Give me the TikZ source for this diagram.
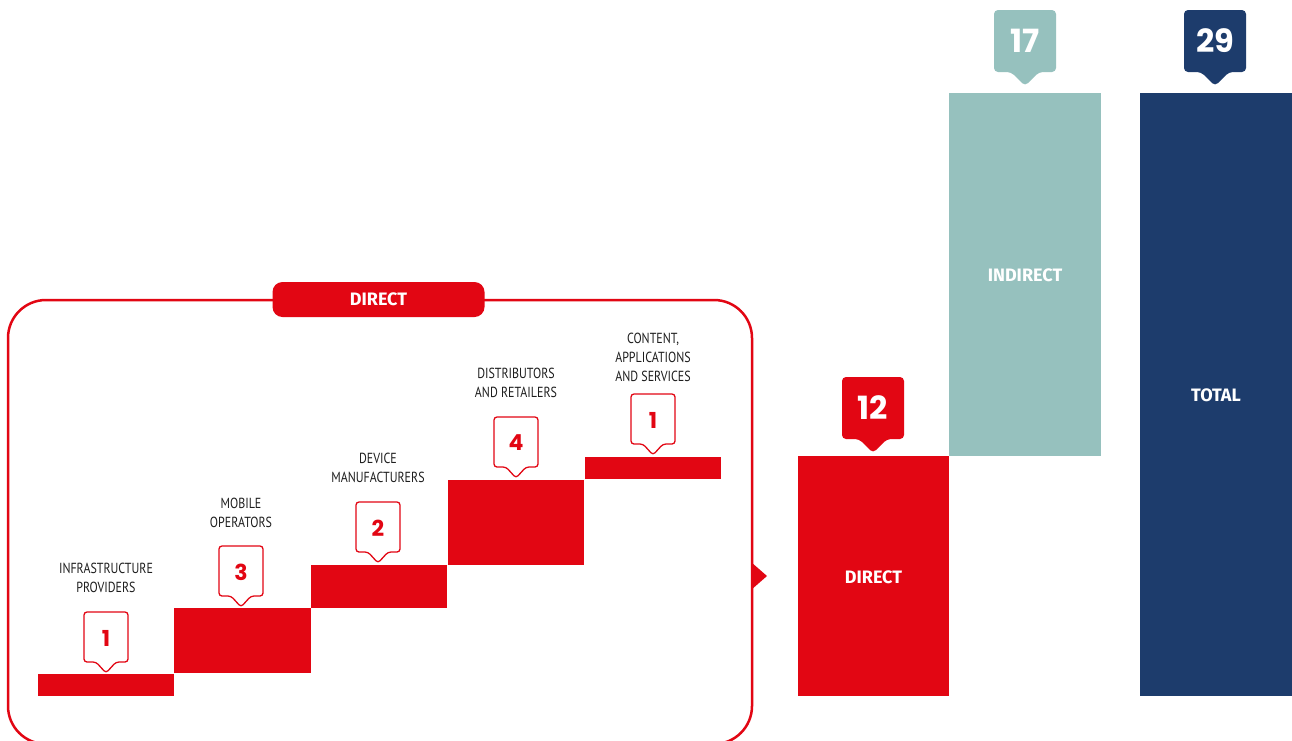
\documentclass[tikz,border=0pt]{standalone}
\usepackage{fontspec}
\setmainfont{PT Sans}
\newfontfamily\condfont[FakeStretch=0.82]{PT Sans}
\newfontfamily\numfont{Poppins}
\newfontfamily\barfont{Fira Sans}
\definecolor{vred}{HTML}{E20613}
\definecolor{vteal}{HTML}{96C1BE}
\definecolor{vnavy}{HTML}{1D3C6C}
\definecolor{vtext}{HTML}{1E1E1E}
\tikzset{
  lbl/.style={align=center, text=vtext, inner sep=0pt, font=\condfont\fontsize{14.6}{19}\selectfont},
  smallnum/.style={text=vred, inner sep=0pt, font=\numfont\bfseries\fontsize{22}{22}\selectfont},
  bignum/.style={text=white, inner sep=0pt, font=\numfont\bfseries\fontsize{32}{32}\selectfont},
  barlbl/.style={text=white, inner sep=0pt, font=\barfont\bfseries\fontsize{18}{18}\selectfont},
  outline/.style={draw=vred, line width=1.3pt, fill=white, rounded corners=3pt},
}
\newcommand\outcall[4]{%
  \draw[outline] ({#2-22},{#3+50}) -- ({#2-22},#3) -- ({#2+22},#3) -- ({#2+22},{#3+50}) -- ({#2+10},{#3+50}) -- (#2,{#3+61}) -- ({#2-10},{#3+50}) -- cycle;
  \node[smallnum] (#1) at (#2,{#3+26}) {#4};}
\newcommand\fillcall[5]{%
  \fill[#4, rounded corners=4pt] ({#2-31},{#3+62}) -- ({#2-31},#3) -- ({#2+31},#3) -- ({#2+31},{#3+62}) -- ({#2+14},{#3+62}) -- (#2,{#3+76}) -- ({#2-14},{#3+62}) -- cycle;
  \node[bignum] (#1) at (#2,{#3+31}) {#5};}
\begin{document}
\begin{tikzpicture}[x=1pt,y=-1pt]
\clip (0,0) rectangle (1292,740);
\fill[white] (0,0) rectangle (1292,740);
% frame
\draw[vred, line width=2.5pt, rounded corners=38pt] (8,300) rectangle (752,744);
\fill[vred] (751,562) -- (767,576) -- (751,590) -- cycle;
\node[fill=vred, rounded corners=10pt, minimum width=212pt, minimum height=35pt, inner sep=0pt, barlbl] (pill) at (378.5,299.5) {DIRECT};
% small bars
\fill[vred] (38,674) rectangle (174,696);
\fill[vred] (174,608) rectangle (310.5,673);
\fill[vred] (311,565) rectangle (447,608);
\fill[vred] (448,480) rectangle (584,565);
\fill[vred] (585,457) rectangle (721,479);
% callouts
\outcall{c1}{106}{612}{1}
\outcall{c2}{241}{546}{3}
\outcall{c3}{378}{502}{2}
\outcall{c4}{516}{417}{4}
\outcall{c5}{653}{394}{1}
% labels
\node[lbl] (l1) at (106,578) {INFRASTRUCTURE\\PROVIDERS};
\node[lbl] (l2) at (241,513) {MOBILE\\OPERATORS};
\node[lbl] (l3) at (378,468) {DEVICE\\MANUFACTURERS};
\node[lbl] (l4) at (516,383) {DISTRIBUTORS\\AND RETAILERS};
\node[lbl] (l5) at (653,357) {CONTENT,\\APPLICATIONS\\AND SERVICES};
% big bars
\fill[vred] (798,456) rectangle (949,696);
\fill[vteal] (949,93) rectangle (1101,456);
\fill[vnavy] (1140,93) rectangle (1292,696);
\node[barlbl] (bdirect) at (873.5,577) {DIRECT};
\node[barlbl] (bindirect) at (1025,275) {INDIRECT};
\node[barlbl] (btotal) at (1216,395) {TOTAL};
\fillcall{n12}{873}{377}{vred}{12}
\fillcall{n17}{1025}{10}{vteal}{17}
\fillcall{n29}{1215}{10}{vnavy}{29}
\end{tikzpicture}
\end{document}
